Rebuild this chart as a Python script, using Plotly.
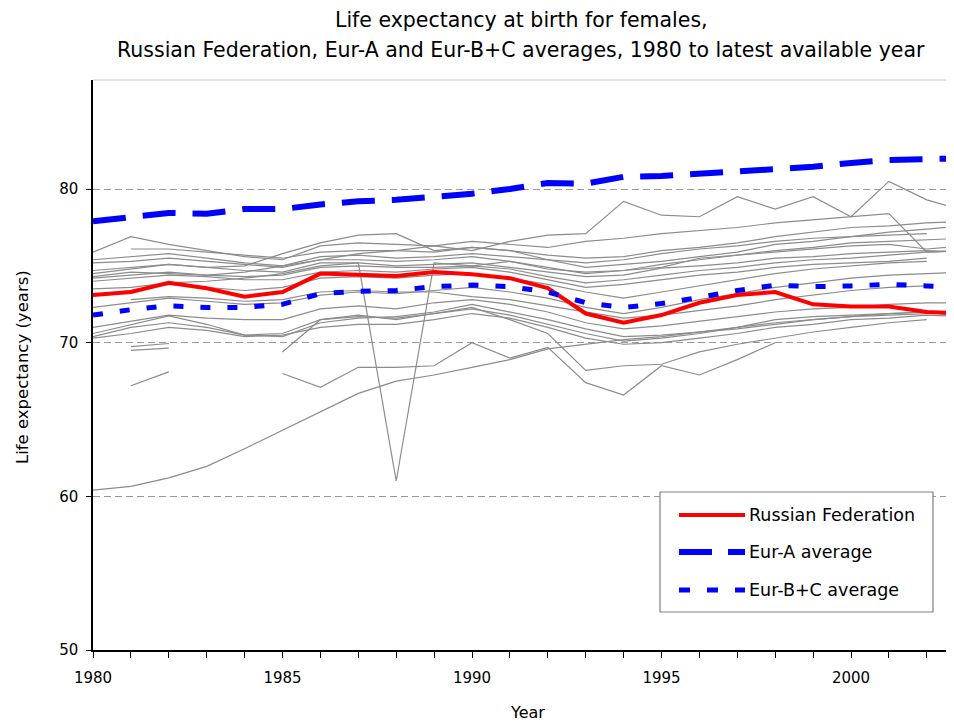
import plotly.graph_objects as go

years = list(range(1980, 2004))

russian_federation = [73.1, 73.3, 73.9, 73.55, 73.0, 73.3, 74.5, 74.45, 74.35, 74.6, 74.45, 74.2,
                      73.55, 71.9, 71.3, 71.8, 72.6, 73.1, 73.3, 72.5, 72.35, 72.35, 72.0, 71.9]
eur_a_average = [77.9, 78.2, 78.45, 78.4, 78.7, 78.7, 79.0, 79.2, 79.3, 79.5, 79.7, 80.0,
                 80.4, 80.35, 80.8, 80.85, 81.0, 81.1, 81.3, 81.45, 81.7, 81.9, 81.95, 82.0]
eur_bc_average = [71.8, 72.15, 72.4, 72.3, 72.3, 72.5, 73.2, 73.35, 73.4, 73.65, 73.75, 73.65,
                  73.3, 72.6, 72.3, 72.55, 72.95, 73.4, 73.75, 73.65, 73.7, 73.8, 73.7, 73.6]

N = None
country_01 = [75.9, 76.9, 76.4, 76.0, 75.6, 75.4, 76.3, 76.5, 76.4, 76.3, 76.6, 76.4, 76.2, 76.6, 76.8, 77.1, 77.3, 77.5, 77.8, 78.0, 78.2, 78.4, 75.9, 76.0]
country_02 = [N, 76.1, 76.1, 75.9, 75.7, 75.5, 75.9, 76.0, 76.0, 75.9, 76.2, 76.0, 75.7, 75.5, 75.6, 76.0, 76.2, 76.5, 76.9, 77.2, 77.5, 77.6, 77.8, 77.9]
country_03 = [75.4, 75.6, 75.8, 75.5, 75.2, 75.0, 75.6, 75.7, 75.5, 75.6, 75.8, 75.6, 75.4, 75.2, 75.4, 75.8, 76.1, 76.3, 76.6, 76.8, 76.9, 77.0, 77.1, N]
country_04 = [75.2, 75.3, 75.5, 75.3, 75.1, 74.9, 75.4, 75.4, 75.3, 75.4, 75.6, 75.3, 74.9, 74.5, 74.7, 75.1, 75.4, 75.7, 76.0, 76.2, 76.5, 76.6, 76.7, 76.8]
country_05 = [74.7, 74.9, 75.1, 74.9, 74.7, 74.6, 75.2, 75.2, 75.0, 75.1, 75.2, 74.9, 74.6, 74.3, 74.4, 74.85, 75.0, 75.2, 75.5, 75.6, 75.8, 75.9, 76.0, 75.9]
country_06 = [74.2, 74.4, 74.6, 74.4, 74.3, 74.4, 74.9, 75.0, 74.9, 74.9, 75.0, 74.8, 74.3, 73.9, 74.1, 74.4, 74.7, 74.9, 75.2, 75.4, 75.5, 75.7, 75.9, 76.0]
country_07 = [74.0, 74.2, 74.4, 74.3, 74.1, 74.1, 74.6, 74.7, 74.6, 74.8, 74.9, 74.6, 74.1, 73.6, 73.8, 74.1, 74.4, 74.6, 74.9, 75.1, 75.2, 75.3, 75.5, N]
country_08 = [73.5, 73.6, 73.9, 74.0, 74.2, 74.5, 75.0, 75.2, 61.0, 75.2, 75.0, 75.3, 74.8, 74.6, 74.7, 74.9, 75.5, 75.7, 75.9, 76.1, 76.3, 76.4, 76.1, 76.3]
country_09 = [74.5, 74.8, 75.1, 74.9, 75.0, 75.8, 76.5, 77.0, 77.1, 76.0, 76.2, 76.0, 75.4, 74.9, 75.1, 75.3, 75.6, 75.9, 76.4, 76.6, 76.9, 77.2, 77.4, 77.6]
country_10 = [74.3, 74.6, 74.5, 74.4, 74.6, 75.0, 75.4, 75.8, 76.0, 76.3, 76.0, 76.6, 77.0, 77.1, 79.2, 78.3, 78.2, 79.5, 78.7, 79.5, 78.2, 80.5, 79.3, 78.6]
country_11 = [N, 72.8, 73.0, 72.9, 72.7, 72.8, 73.3, 73.4, 73.3, 73.3, 73.0, 72.8, 72.4, 72.0, 71.6, 71.8, 72.1, 72.4, 72.8, 73.1, 73.4, 73.6, 73.7, N]
country_12 = [71.0, 71.4, 71.8, 71.6, 71.5, 71.5, 72.2, 72.4, 72.2, 72.6, 72.8, 72.5, 72.0, 71.3, 70.9, 71.1, 71.4, 71.7, 72.0, 72.2, 72.3, 72.5, 72.6, 72.6]
country_13 = [70.6, 71.2, 71.75, 71.2, 70.5, 70.6, 71.5, 71.7, 71.6, 71.9, 72.2, 71.8, 71.2, 70.6, 70.1, 70.3, 70.6, 71.0, 71.5, 71.7, 71.8, 71.9, 72.0, 71.7]
country_14 = [70.4, 71.0, 71.3, 71.0, 70.5, 70.4, 71.3, 71.6, 71.7, 72.0, 72.5, 72.0, 71.5, 70.9, 70.4, 70.5, 70.7, 70.9, 71.2, 71.5, 71.7, 71.8, 71.9, N]
country_15 = [70.3, 70.6, 71.0, 70.8, 70.4, 70.5, 71.0, 71.2, 71.2, 71.5, 71.9, 71.6, 71.0, 70.3, 69.9, 70.0, 70.3, 70.6, 71.0, 71.2, 71.5, 71.6, 71.8, 71.7]
country_16 = [N, 67.2, 68.1, N, N, 68.0, 67.1, 68.4, 68.4, 68.5, 70.0, 69.0, 69.7, 67.4, 66.6, 68.5, 67.9, 68.9, 70.0, N, N, N, N, N]
country_17 = [N, 69.5, 69.65, N, N, 69.4, 71.5, 71.8, 71.5, 71.9, 72.3, 71.5, 70.6, 68.2, 68.5, 68.6, 69.4, 69.9, 70.3, 70.7, 71.0, 71.3, 71.5, N]
country_18 = [N, 69.75, 69.95, N, N, N, N, N, N, N, N, N, N, N, N, N, N, N, N, N, N, N, N, N]
country_19 = [72.3, 72.6, 72.9, 72.7, 72.5, 72.6, 73.1, 73.3, 73.2, 73.4, 73.6, 73.3, 72.9, 72.3, 71.9, 72.3, 72.8, 73.2, 73.6, 73.9, 74.2, 74.4, 74.5, 74.6]
country_20 = [73.1, 73.4, 73.8, 73.6, 73.4, 73.6, 74.2, 74.3, 74.2, 74.4, 74.5, 74.2, 73.8, 73.3, 72.9, 73.3, 73.7, 74.1, 74.5, 74.8, 75.0, 75.2, 75.3, N]
country_21 = [60.4, 60.65, 61.2, 61.95, 63.1, 64.3, 65.5, 66.7, 67.5, 67.9, 68.4, 68.9, 69.6, 69.9, 70.2, 70.4, 70.7, 71.0, 71.3, 71.5, 71.7, 71.9, 72.0, N]

other_countries = [country_01, country_02, country_03, country_04, country_05, country_06, country_07,
                   country_08, country_09, country_10, country_11, country_12, country_13, country_14,
                   country_15, country_16, country_17, country_18, country_19, country_20, country_21]

legend_labels = ["Russian Federation", "Eur-A average", "Eur-B+C average"]
title_lines = ["Life expectancy at birth for females,",
               "Russian Federation, Eur-A and Eur-B+C averages, 1980 to latest available year"]

FONT = "DejaVu Sans"
OFF = 8                      # page body margin
W, H = 954 - OFF, 724 - OFF
L, R, T, B = 93 - OFF, 0, 80 - OFF, 724 - 650
PW, PH = W - L - R, H - T - B


def px(x):
    """page x pixel -> paper coordinate"""
    return (x - OFF - L) / PW


def py(y):
    """page y pixel -> paper coordinate"""
    return (H - B - (y - OFF)) / PH


fig = go.Figure()
for vals in other_countries:
    fig.add_trace(go.Scatter(x=years, y=vals, mode="lines", showlegend=False,
                             line=dict(color="#8c8c8c", width=1.2), connectgaps=False,
                             hoverinfo="skip"))

fig.add_trace(go.Scatter(x=years, y=russian_federation, mode="lines", name=legend_labels[0],
                         line=dict(color="#ff0000", width=4), showlegend=False))
fig.add_trace(go.Scatter(x=years, y=eur_a_average, mode="lines", name=legend_labels[1],
                         line=dict(color="#0000ff", width=6, dash="33px,17px"), showlegend=False))
fig.add_trace(go.Scatter(x=years, y=eur_bc_average, mode="lines", name=legend_labels[2],
                         line=dict(color="#0000ff", width=5, dash="10px,17px"), showlegend=False))

shapes = []
shapes.append(dict(type="line", xref="paper", yref="paper", x0=0, x1=1, y0=1, y1=1,
                   line=dict(color="#c8c8c8", width=1)))
shapes.append(dict(type="rect", xref="paper", yref="paper", x0=px(660), x1=px(933), y0=py(612), y1=py(492),
                   line=dict(color="#808080", width=1.2), fillcolor="white", layer="above"))
leg_styles = [dict(color="#ff0000", width=4, dash="solid"),
              dict(color="#0000ff", width=6, dash="33px,16px"),
              dict(color="#0000ff", width=5, dash="11px,17px")]
leg_y = [515, 552, 590]
annotations = []
for lab, st, yy in zip(legend_labels, leg_styles, leg_y):
    shapes.append(dict(type="line", xref="paper", yref="paper", x0=px(679), x1=px(745), y0=py(yy), y1=py(yy),
                       line=st, layer="above"))
    annotations.append(dict(text=lab, xref="paper", yref="paper", x=px(747), y=py(yy), xanchor="left",
                            yanchor="middle", showarrow=False, font=dict(family=FONT, size=17.5, color="black")))

annotations.append(dict(text=title_lines[0], xref="paper", yref="paper", x=px(521), y=py(20),
                        xanchor="center", yanchor="middle", showarrow=False,
                        font=dict(family=FONT, size=20.5, color="black")))
annotations.append(dict(text=title_lines[1], xref="paper", yref="paper", x=px(521), y=py(50),
                        xanchor="center", yanchor="middle", showarrow=False,
                        font=dict(family=FONT, size=20.5, color="black")))
annotations.append(dict(text="Year", xref="paper", yref="paper", x=px(527), y=py(713),
                        xanchor="center", yanchor="middle", showarrow=False,
                        font=dict(family=FONT, size=16, color="black")))
annotations.append(dict(text="Life expectancy (years)", xref="paper", yref="paper", x=px(22), y=py(367),
                        xanchor="center", yanchor="middle", textangle=-90, showarrow=False,
                        font=dict(family=FONT, size=16.5, color="black")))

fig.update_layout(
    width=W, height=H,
    margin=dict(l=L, r=R, t=T, b=B),
    paper_bgcolor="white", plot_bgcolor="white",
    shapes=shapes, annotations=annotations,
    showlegend=False,
    xaxis=dict(range=[1980, 1980 + PW / 37.9], tickmode="linear", tick0=1980, dtick=5,
               ticks="outside", ticklen=6, tickcolor="black", tickwidth=1,
               minor=dict(dtick=1, ticks="outside", ticklen=6, tickcolor="black", tickwidth=1, showgrid=False),
               showline=True, linecolor="black", linewidth=1.5, showgrid=False, zeroline=False,
               tickfont=dict(family=FONT, size=15, color="black"), ticklabelstandoff=7),
    yaxis=dict(range=[50, 87.1], tickvals=[50, 60, 70, 80], ticks="outside", ticklen=5,
               tickcolor="black", showline=True, linecolor="black", linewidth=1.5,
               showgrid=True, gridcolor="#999999", gridwidth=1, griddash="7px,4px", zeroline=False,
               tickfont=dict(family=FONT, size=15, color="black"), ticklabelstandoff=5),
)

fig.write_html("out.html")
